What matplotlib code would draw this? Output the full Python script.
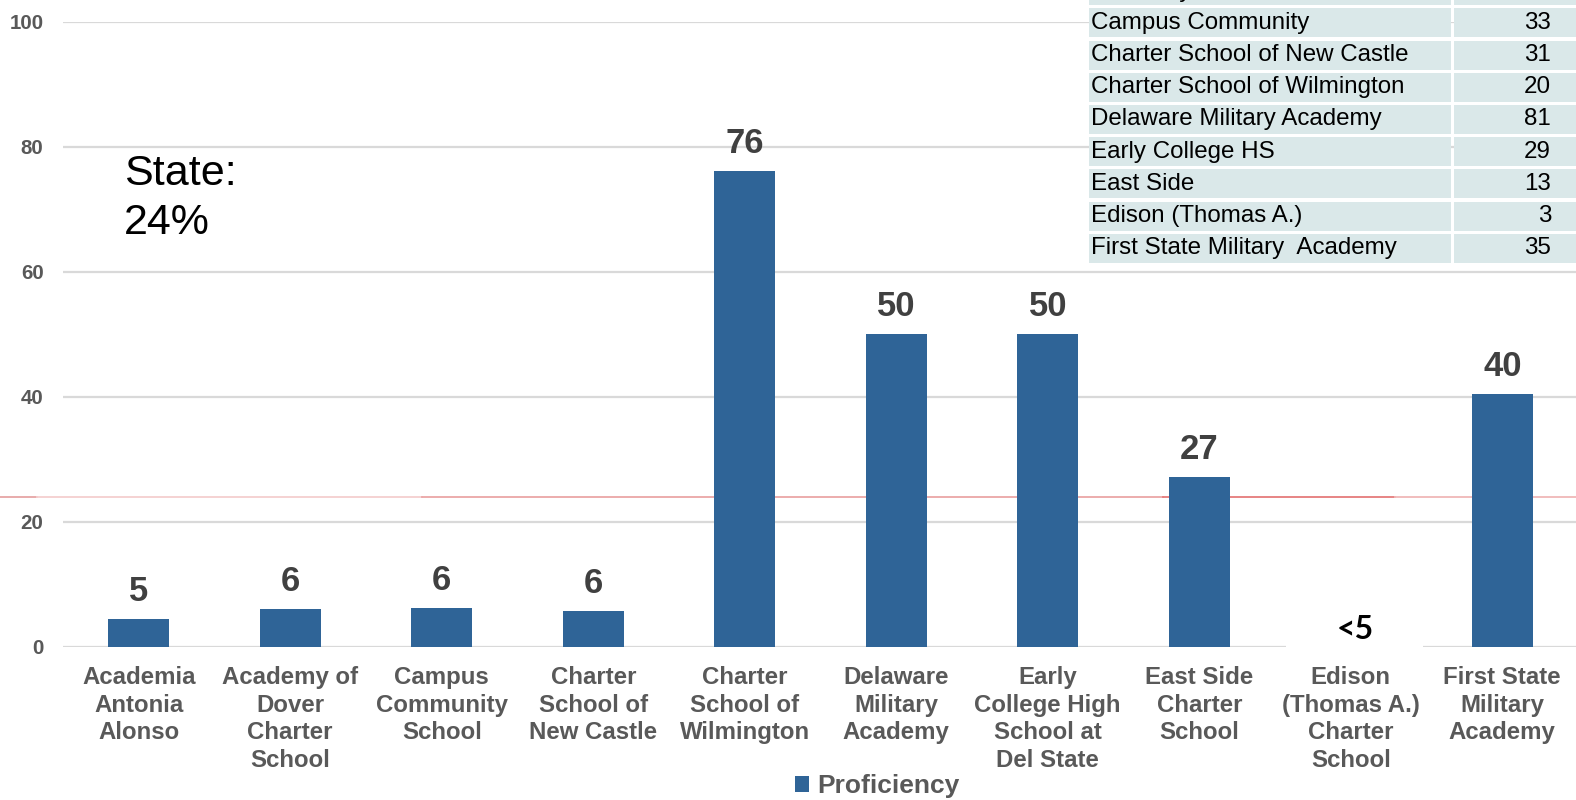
import numpy as np
import matplotlib
matplotlib.use("Agg")
import matplotlib.pyplot as plt
from matplotlib.patches import Rectangle
from matplotlib.transforms import blended_transform_factory

# ---------------- data ----------------
categories = [
    "Academia\nAntonia\nAlonso",
    "Academy of\nDover\nCharter\nSchool",
    "Campus\nCommunity\nSchool",
    "Charter\nSchool of\nNew Castle",
    "Charter\nSchool of\nWilmington",
    "Delaware\nMilitary\nAcademy",
    "Early\nCollege High\nSchool at\nDel State",
    "East Side\nCharter\nSchool",
    "Edison\n(Thomas A.)\nCharter\nSchool",
    "First State\nMilitary\nAcademy",
]
proficiency = [4.5, 6.0, 6.2, 5.7, 76.1, 50.0, 50.0, 27.2, 0.0, 40.4]
value_labels = ["5", "6", "6", "6", "76", "50", "50", "27", "<5", "40"]
state_value = 24
yticks = [0, 20, 40, 60, 80, 100]

table_names = ["Academy of Dover", "Campus Community", "Charter School of New Castle",
               "Charter School of Wilmington", "Delaware Military Academy",
               "Early College HS", "East Side", "Edison (Thomas A.)",
               "First State Military  Academy"]
table_values = ["", "33", "31", "20", "81", "29", "13", "3", "35"]

# ---------------- style ----------------
BAR = "#2F6497"
GRID = "#D9D9D9"
TICK = "#595959"
LABEL = "#404040"
CELL = "#DAE8E9"
FONT = "Liberation Sans"

W, H = 1576, 800
fig = plt.figure(figsize=(W / 100, H / 100), dpi=100)
ax = fig.add_axes([63 / W, 1 - 646.7 / H, 1515 / W, 625 / H])

x = np.arange(len(categories))
bars = ax.bar(x, proficiency, width=0.4, color=BAR, label="Proficiency", zorder=2)

ax.set_xlim(-0.5, len(categories) - 0.5)
ax.set_ylim(0, 100)
ax.set_yticks(yticks)
ax.set_yticklabels([str(t) for t in yticks], fontfamily=FONT, fontweight="bold",
                   fontsize=14.8, color=TICK)
ax.set_xticks(x)
ax.set_xticklabels(categories, fontfamily=FONT, fontweight="bold", fontsize=17.3,
                   color=TICK, linespacing=1.25)
ax.tick_params(axis="both", length=0)
ax.tick_params(axis="y", pad=14)
ax.tick_params(axis="x", pad=14)
for s in ax.spines.values():
    s.set_visible(False)
ax.yaxis.grid(True, color=GRID, lw=1.6)
ax.set_axisbelow(True)

# value labels
for xi, v, lab in zip(x, proficiency, value_labels):
    if lab.startswith("<"):
        ax.add_patch(Rectangle((xi - 0.45 + 0.025, -1.5), 0.9, 5.0, facecolor="white",
                               edgecolor="none", zorder=3, clip_on=False))
        ax.annotate(lab, (xi, v), xytext=(3, 5.5), textcoords="offset points",
                    ha="center", va="baseline", fontfamily="Lato", fontweight="bold",
                    fontsize=23, color="black", zorder=4)
    else:
        ax.annotate(lab, (xi, v), xytext=(0, 13), textcoords="offset points",
                    ha="center", va="baseline", fontfamily=FONT, fontweight="bold",
                    fontsize=25, color=LABEL, zorder=4)

# state reference line (spans whole figure width)
tr = blended_transform_factory(fig.transFigure, ax.transData)
segments = [(0, 37, "#E6A5A5"), (37, 422, "#F5CFCF"), (422, 1163, "#EAA6A6"),
            (1163, 1395, "#E57B7B"), (1395, W, "#F0B8B8")]
for a, b, c in segments:
    ax.plot([a / W, b / W], [state_value, state_value], color=c, lw=1.3,
            transform=tr, clip_on=False, zorder=1.5)

fig.text(124 / W, 1 - 154 / H, f"State:\n{state_value}%", fontfamily=FONT,
         fontsize=31, color="black", va="top", ha="left", linespacing=1.3)

# table in top-right corner
row_h, pitch = 29, 32.2
top0 = 8.3 - pitch
for i, (name, val) in enumerate(zip(table_names, table_values)):
    top = top0 + i * pitch
    for (cx0, cx1) in [(1089, 1451), (1454, W + 5)]:
        fig.add_artist(Rectangle((cx0 / W, 1 - (top + row_h) / H), (cx1 - cx0) / W,
                                 row_h / H, transform=fig.transFigure,
                                 facecolor=CELL, edgecolor="none", zorder=5))
    base = top + 20.5
    fig.text(1091 / W, 1 - base / H, name, fontfamily=FONT, fontsize=17.4,
             color="black", va="baseline", ha="left", zorder=6)
    fig.text(1551 / W, 1 - base / H, val, fontfamily=FONT, fontsize=17.4,
             color="black", va="baseline", ha="right", zorder=6)

# legend
fig.legend(handles=[bars], labels=["Proficiency"], loc="center",
           bbox_to_anchor=(877 / W, 1 - 786 / H), frameon=False,
           prop=dict(family=FONT, weight="bold", size=19), labelcolor=TICK,
           handlelength=0.55, handleheight=0.55, handletextpad=0.3,
           borderpad=0, borderaxespad=0)

fig.savefig("out.png", dpi=100, facecolor="white")
